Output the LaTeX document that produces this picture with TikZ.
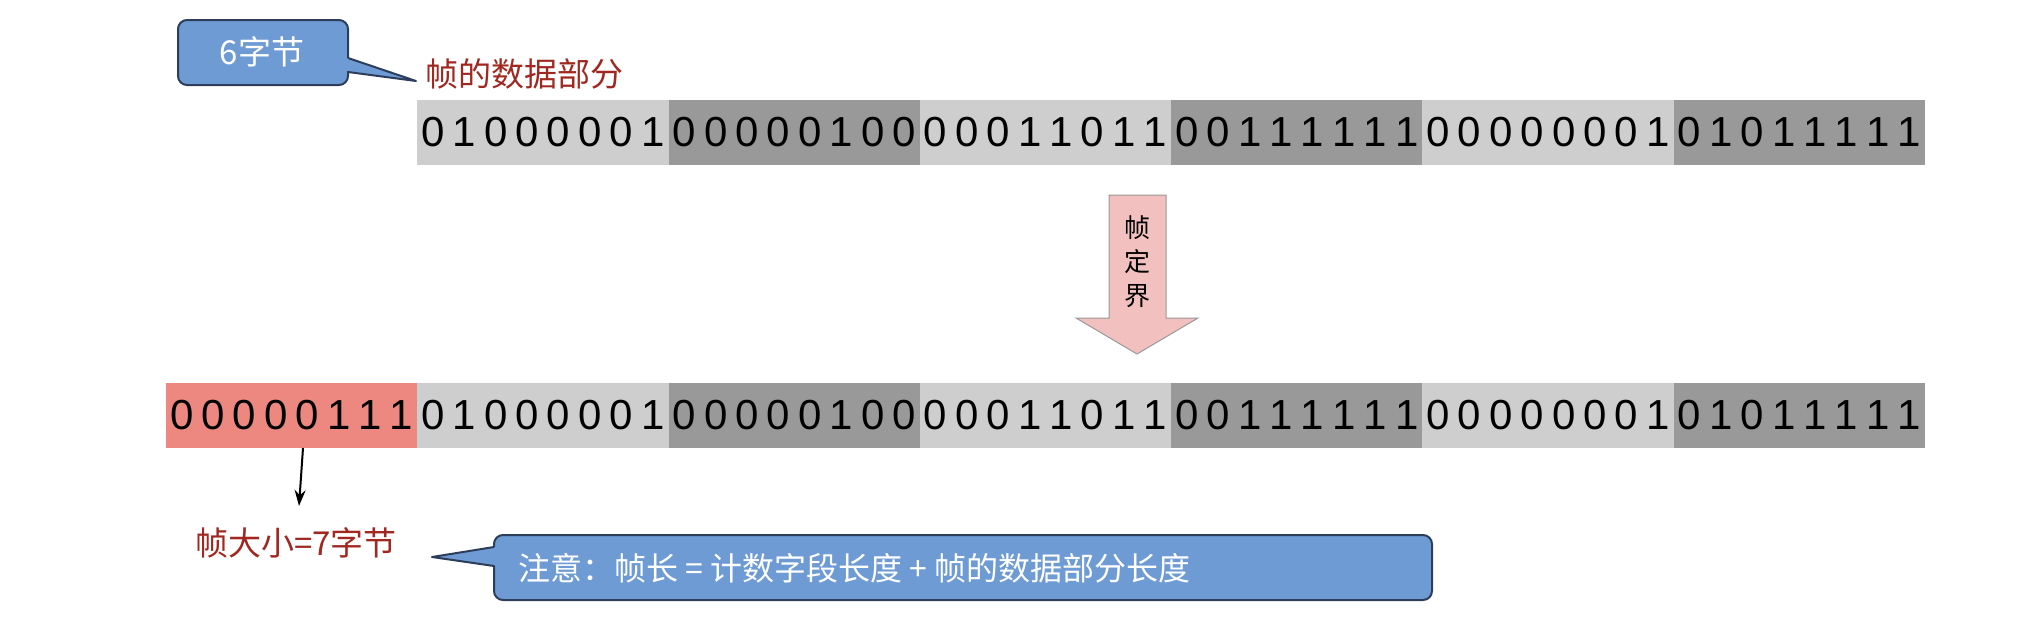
\documentclass[tikz,border=0pt]{standalone}
\usepackage{fontspec}
\usetikzlibrary{arrows.meta}
\setmainfont{Liberation Sans}
\newfontfamily\cjk{Noto Sans CJK SC}
\definecolor{lg}{RGB}{206,206,206}
\definecolor{dg}{RGB}{153,153,153}
\definecolor{rc}{RGB}{236,136,128}
\definecolor{bl}{RGB}{110,155,212}
\definecolor{bd}{RGB}{45,62,90}
\definecolor{dr}{RGB}{160,40,32}
\definecolor{pk}{RGB}{242,192,190}
\tikzset{
  cell/.style={draw=none,minimum width=251.3pt,minimum height=65pt,inner sep=0pt,anchor=west},
  dig/.style={font=\fontsize{42}{42}\selectfont,inner sep=0pt},
  call/.style={fill=bl,draw=bd,line width=2pt,line join=round},
  rlab/.style={font=\cjk\fontsize{33}{33}\selectfont,text=dr,inner sep=0pt}
}
\begin{document}
\begin{tikzpicture}[x=1pt,y=-1pt]
\useasboundingbox (0,0) rectangle (2038,638);
% top row
\foreach \i/\c/\b in {0/lg/{0,1,0,0,0,0,0,1},1/dg/{0,0,0,0,0,1,0,0},2/lg/{0,0,0,1,1,0,1,1},3/dg/{0,0,1,1,1,1,1,1},4/lg/{0,0,0,0,0,0,0,1},5/dg/{0,1,0,1,1,1,1,1}}{
  \node[cell,fill=\c] (t\i) at ({417+251.3*\i},132.5) {};
  \foreach \d [count=\k from 0] in \b{
    \node[dig] (td\i\k) at ({417+251.3*\i+16+31.4*\k},132.5) {\d};
  }
}
% bottom row
\foreach \i/\c/\b in {0/rc/{0,0,0,0,0,1,1,1},1/lg/{0,1,0,0,0,0,0,1},2/dg/{0,0,0,0,0,1,0,0},3/lg/{0,0,0,1,1,0,1,1},4/dg/{0,0,1,1,1,1,1,1},5/lg/{0,0,0,0,0,0,0,1},6/dg/{0,1,0,1,1,1,1,1}}{
  \node[cell,fill=\c] (b\i) at ({165.7+251.3*\i},415.5) {};
  \foreach \d [count=\k from 0] in \b{
    \node[dig] (bd\i\k) at ({165.7+251.3*\i+16+31.4*\k},415.5) {\d};
  }
}
% top callout
\draw[call] (348,58) [sharp corners]-- (416,81) -- (348,72) [rounded corners=9pt]-- (348,85) -- (178,85) -- (178,20) -- (348,20) -- (348,58);
\node[font=\cjk\fontsize{33}{33}\selectfont,text=white] (six) at (262,52) {6字节};
\node[rlab,anchor=west] (data) at (425,74) {帧的数据部分};
% block arrow
\draw[fill=pk,draw=dg,line width=1pt] (1109,195) -- (1166,195) -- (1166,318) -- (1198,318) -- (1137,354) -- (1076,318) -- (1109,318) -- cycle;
\node[font=\cjk\fontsize{26}{34}\selectfont,align=center] (dj) at (1137,262) {帧\\定\\界};
% bottom
\node[rlab] (size) at (296,543) {帧大小=7字节};
\coordinate (s0) at (303,448);
\coordinate (s1) at (299,506);
\draw[line width=2pt,-{Stealth[length=16pt,width=11pt]}] (s0) -- (s1);
\draw[call] (494,547) [sharp corners]-- (432,557) -- (494,566) [rounded corners=9pt]-- (494,600) -- (1432,600) -- (1432,535) -- (494,535) -- (494,547);
\node[font=\cjk\fontsize{32}{32}\selectfont,text=white,anchor=west] (note) at (515,568) {注意：帧长 = 计数字段长度 + 帧的数据部分长度};
\end{tikzpicture}
\end{document}
